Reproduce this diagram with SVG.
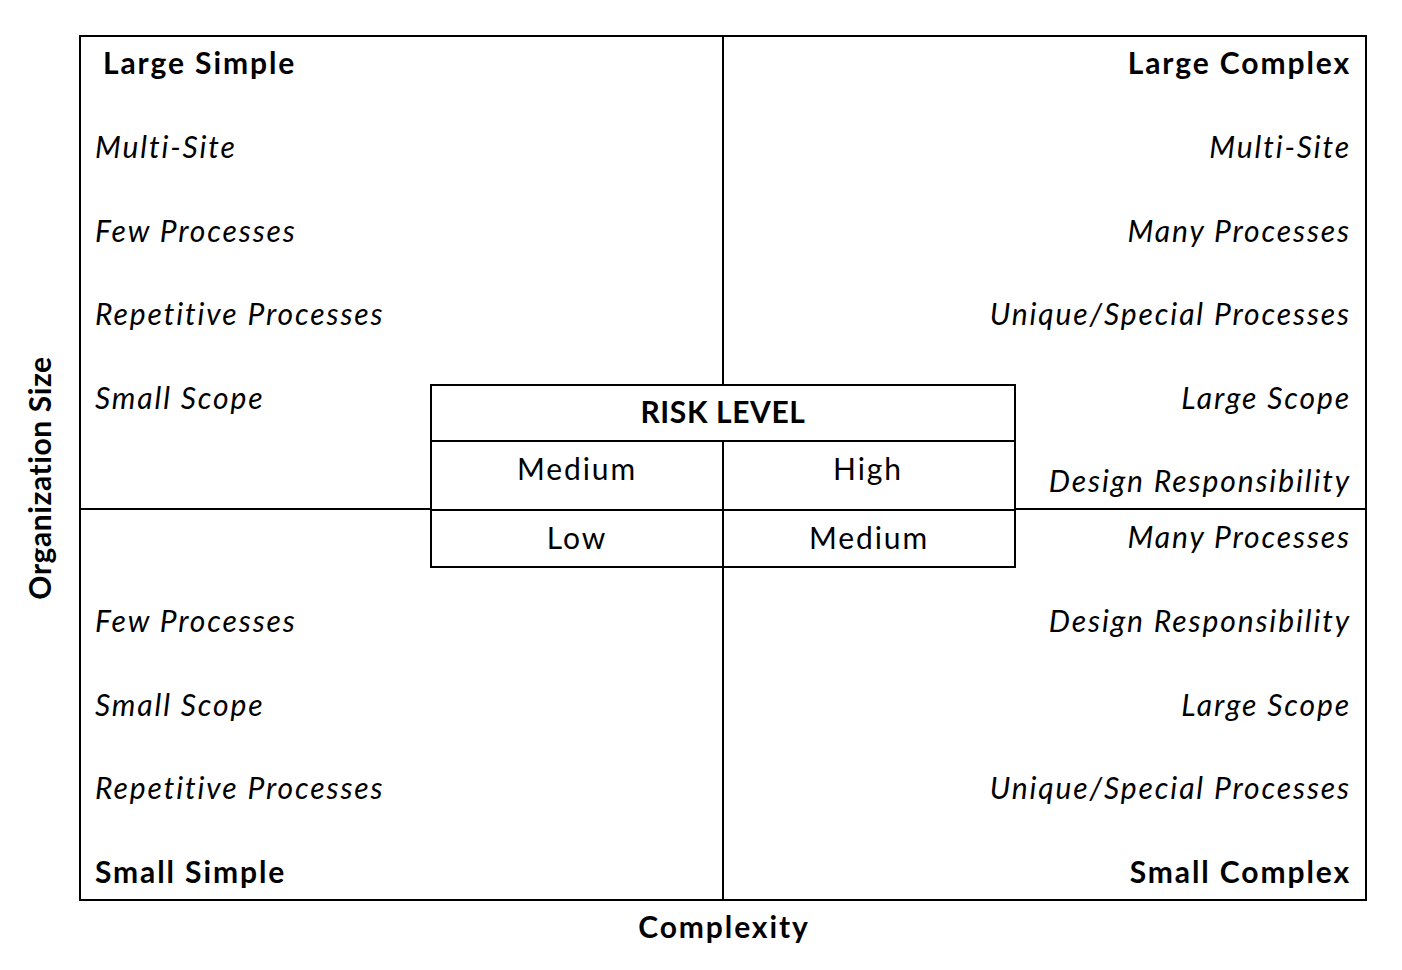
<svg xmlns="http://www.w3.org/2000/svg" width="1402" height="970" viewBox="0 0 1402 970">
<style>
text{font-family:Lato,"Open Sans",sans-serif;fill:#000;font-size:30px;letter-spacing:1.9px}
.b{font-weight:bold}
.i{font-style:italic}
.r{text-anchor:end}
.c{text-anchor:middle}
.rl{letter-spacing:0.6px}
.ln{stroke:#000;stroke-width:2;fill:none}
</style>
<rect width="1402" height="970" fill="#fff"/>
<g id="connectors">
<rect class="ln" x="80" y="36" width="1286" height="864"/>
<line class="ln" x1="723" y1="36" x2="723" y2="385"/>
<line class="ln" x1="723" y1="567" x2="723" y2="900"/>
<line class="ln" x1="80" y1="509" x2="431" y2="509"/>
<line class="ln" x1="1015" y1="509" x2="1366" y2="509"/>
</g>
<g id="quad-large-simple">
<text class="b" x="103" y="74">Large Simple</text>
<text class="i" x="95" y="158">Multi-Site</text>
<text class="i" x="95" y="242">Few Processes</text>
<text class="i" x="95" y="325">Repetitive Processes</text>
<text class="i" x="95" y="409">Small Scope</text>
</g>
<g id="quad-large-complex">
<text class="b r" x="1351" y="74">Large Complex</text>
<text class="i r" x="1351" y="158">Multi-Site</text>
<text class="i r" x="1351" y="242">Many Processes</text>
<text class="i r" x="1351" y="325">Unique/Special  Processes</text>
<text class="i r" x="1351" y="409">Large Scope</text>
<text class="i r" x="1351" y="492">Design Responsibility</text>
</g>
<g id="quad-small-simple">
<text class="i" x="95" y="632">Few Processes</text>
<text class="i" x="95" y="716">Small Scope</text>
<text class="i" x="95" y="799">Repetitive Processes</text>
<text class="b" x="95" y="883">Small Simple</text>
</g>
<g id="quad-small-complex">
<text class="i r" x="1351" y="548">Many Processes</text>
<text class="i r" x="1351" y="632">Design Responsibility</text>
<text class="i r" x="1351" y="716">Large Scope</text>
<text class="i r" x="1351" y="799">Unique/Special  Processes</text>
<text class="b r" x="1351" y="883">Small Complex</text>
</g>
<g id="risk-table">
<rect x="431" y="385" width="584" height="182" fill="#fff" class="ln"/>
<line class="ln" x1="431" y1="441" x2="1015" y2="441"/>
<line class="ln" x1="431" y1="510" x2="1015" y2="510"/>
<line class="ln" x1="723" y1="441" x2="723" y2="567"/>
<text class="b c rl" x="723" y="423">RISK LEVEL</text>
<text class="c" x="577" y="480">Medium</text>
<text class="c" x="868" y="480">High</text>
<text class="c" x="577" y="549">Low</text>
<text class="c" x="869" y="549">Medium</text>
</g>
<g id="axis-labels">
<text class="b c" x="724" y="938">Complexity</text>
<text class="b c rl" transform="translate(51,478) rotate(-90)">Organization Size</text>
</g>
</svg>
